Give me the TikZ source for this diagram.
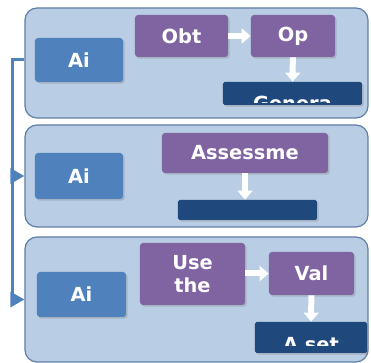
\documentclass[tikz,border=0pt]{standalone}
\usepackage{fontspec}
\setmainfont{DejaVu Sans}
\usetikzlibrary{arrows.meta,shadows}

\definecolor{panelfill}{HTML}{B9CDE5}
\definecolor{paneledge}{HTML}{5F7EA6}
\definecolor{aiblue}{HTML}{4F81BD}
\definecolor{actpurple}{HTML}{8064A2}
\definecolor{outnavy}{HTML}{1F497D}

\tikzset{
  panel/.style={draw=paneledge, fill=panelfill, rounded corners=6pt, line width=0.6pt, minimum width=171.5pt},
  boxtext/.style={text=white, inner sep=0pt, align=center, font=\fontsize{9.7}{11.5}\selectfont\bfseries},
  box/.style={boxtext, rounded corners=1.5pt, drop shadow={shadow xshift=0.8pt, shadow yshift=-0.8pt, opacity=0.35}},
  aibox/.style={box, fill=aiblue},
  actbox/.style={box, fill=actpurple},
  outbox/.style={box, fill=outnavy, rounded corners=0.8pt},
  blockarrow/.style={draw=white, line width=3pt, -{Triangle[length=4.5pt,width=7.5pt]}},
  link/.style={draw=aiblue, line width=1.5pt},
  linkhead/.style={-{Triangle[length=7pt,width=7.5pt]}}
}

\begin{document}
\begin{tikzpicture}[x=0.5pt, y=-0.5pt] % one unit = one pixel of the reference
    \useasboundingbox (0,0) rectangle (371,363);

    % The three panels
    \node[panel, minimum height=55pt] (p1) at (196.5,63) {};
    \node[panel, minimum height=51pt] (p2) at (196.5,176) {};
    \node[panel, minimum height=62.5pt] (p3) at (196.5,299.5) {};

    % Panel 1
    \node[aibox, minimum width=44pt, minimum height=22pt] (ai1) at (79,60) {Ai};
    \node[actbox, minimum width=46.5pt, minimum height=21pt] (obt) at (181.5,36) {Obt};
    \node[actbox, minimum width=42pt, minimum height=21pt] (op) at (293,36) {Op};
    \node[outbox, minimum width=69.5pt, minimum height=11.5pt] (genera) at (292.5,93.5) {};
    \begin{scope}
      \clip ([yshift=1.5pt]genera.south west) rectangle (genera.north east);
      \node[boxtext, anchor=base] (generatext) at (292.5,111) {Genera};
    \end{scope}
    \draw[blockarrow] (obt) -- (op);
    \draw[blockarrow] (op) -- (genera);

    % Panel 2
    \node[aibox, minimum width=44pt, minimum height=23pt] (ai2) at (79,176) {Ai};
    \node[actbox, minimum width=83pt, minimum height=20pt] (assess) at (245,153) {Assessme};
    \node[outbox, minimum width=69.5pt, minimum height=10pt] (result) at (247.5,210) {};
    \draw[blockarrow] (assess.south) -- (assess.south |- result.north);

    % Panel 3
    \node[aibox, minimum width=44.5pt, minimum height=22.5pt] (ai3) at (81.5,294.5) {Ai};
    \node[actbox, minimum width=52.5pt, minimum height=31pt] (use) at (192.5,274) {Use\\the};
    \node[actbox, minimum width=42.5pt, minimum height=21.5pt] (val) at (311.5,273.5) {Val};
    \node[outbox, minimum width=56pt, minimum height=15.5pt] (aset) at (311,337.5) {};
    \begin{scope}
      \clip ([yshift=4pt]aset.south west) rectangle (aset.north east);
      \node[boxtext, anchor=base] (asettext) at (311,351.5) {A set};
    \end{scope}
    \draw[blockarrow] (use.east |- val) -- (val);
    \draw[blockarrow] (val) -- (aset);

    % Link on the left
    \coordinate (bend) at (13,60);
    \draw[link, linkhead] (p1.west |- ai1) -- (bend) |- (p3.west);
    \draw[link, linkhead] (bend |- p2.west) -- (p2.west);
\end{tikzpicture}
\end{document}
